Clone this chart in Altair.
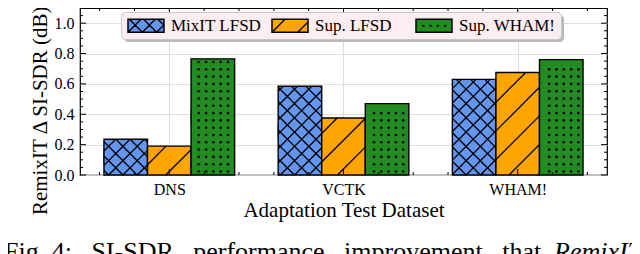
import json
import math
import numpy as np
import pandas as pd
import altair as alt

# ---------------- data ----------------
datasets = ["DNS", "VCTK", "WHAM!"]
series = ["MixIT LFSD", "Sup. LFSD", "Sup. WHAM!"]
mixit_lfsd = [0.235, 0.585, 0.630]
sup_lfsd = [0.190, 0.375, 0.675]
sup_wham = [0.765, 0.470, 0.760]
colors = ["#6495ED", "#FFA500", "#228B22"]
hatches = ["xx", "/", "dots"]
y_major = [0.0, 0.2, 0.4, 0.6, 0.8, 1.0]
y_minor = [0.05, 0.1, 0.15, 0.25, 0.3, 0.35, 0.45, 0.5, 0.55, 0.65, 0.7, 0.75,
           0.85, 0.9, 0.95, 1.05]
x_major = [0, 1, 2]
x_minor = [-0.4, -0.2, 0.2, 0.4, 0.6, 0.8, 1.2, 1.4, 1.6, 1.8, 2.2, 2.4]
x_title = "Adaptation Test Dataset"
y_title = "RemixIT Δ SI-SDR (dB)"
caption_plain = "Fig.\u00a04:\u00a0\u00a0\u00a0SI-SDR\u00a0\u00a0\u00a0performance\u00a0\u00a0\u00a0improvement\u00a0\u00a0\u00a0that"
caption_italic = "RemixIT’s"

values = [mixit_lfsd, sup_lfsd, sup_wham]

# ---------------- geometry helpers ----------------
W, H = 527, 167
BAR_W = 0.25
XMIN, XMAX = -0.5125, 2.5125
YMAX = 1.1
SX = W / (XMAX - XMIN)
SY = H / YMAX
XX_D, SL_D, DOT_D = 14.3, 28.6, 7.3

rows = []
for i, d in enumerate(datasets):
    for j, s in enumerate(series):
        pos = i + (j - 1) * BAR_W
        rows.append(dict(dataset=d, series=s, series_h=s, series_s=s,
                         value=values[j][i], pos=pos,
                         xl=pos - BAR_W / 2, xr=pos + BAR_W / 2,
                         hatch=hatches[j]))
bars = pd.DataFrame(rows)
bars["ymid"] = bars["value"] / 2


def diag(X0, X1, Y0, Y1, d, kind):
    segs = []
    if kind == "/":
        k0 = int(np.floor((Y0 - X1) / d)); k1 = int(np.ceil((Y1 - X0) / d))
        for k in range(k0, k1 + 1):
            c = k * d
            a = max(X0, Y0 - c); b = min(X1, Y1 - c)
            if b - a > 0.6:
                segs.append((a, a + c, b, b + c))
    else:
        k0 = int(np.floor((X0 + Y0) / d)); k1 = int(np.ceil((X1 + Y1) / d))
        for k in range(k0, k1 + 1):
            c = k * d
            a = max(X0, c - Y1); b = min(X1, c - Y0)
            if b - a > 0.6:
                segs.append((a, c - a, b, c - b))
    return segs


def dotgrid(X0, X1, Y0, Y1, step, phx, phy, margin):
    pts = []
    xs_ = np.arange(phx + step * np.ceil((X0 + margin - phx) / step), X1 - margin + 1e-9, step)
    ys_ = np.arange(phy + step * np.ceil((Y0 + margin - phy) / step), Y1 - margin + 1e-9, step)
    for X in xs_:
        for Y in ys_:
            pts.append((X, Y))
    return pts


seg_rows, dot_rows = [], []
for r in bars.itertuples():
    X0 = (r.xl - XMIN) * SX; X1 = (r.xr - XMIN) * SX
    Y0 = 0.0; Y1 = r.value * SY
    segs = []
    if r.hatch == "xx":
        segs = diag(X0, X1, Y0, Y1, XX_D, "/") + diag(X0, X1, Y0, Y1, XX_D, "\\")
    elif r.hatch == "/":
        segs = diag(X0, X1, Y0, Y1, SL_D, "/")
    else:
        for (X, Y) in dotgrid(X0, X1, Y0, Y1, DOT_D, 2.0, 3.5, 2.5):
            dot_rows.append(dict(x=XMIN + X / SX, y=Y / SY))
    for (a, b, c, e) in segs:
        seg_rows.append(dict(x1=XMIN + a / SX, y1=b / SY, x2=XMIN + c / SX, y2=e / SY))
segs_df = pd.DataFrame(seg_rows)
dots_df = pd.DataFrame(dot_rows)

# ---------------- legend swatch paths (unit = 6.5 px) ----------------
U = 6.5
SW_W, SW_H = 36.0, 13.0
X1U = -1 + SW_W / U
RECT = f"M-1,-1H{X1U:.3f}V1H-1Z"


def P(X, Y):
    return (-1 + X / U, 1 - Y / U)


def poly(pts):
    area = 0.0
    for k in range(len(pts)):
        x0, y0 = pts[k]; x1, y1 = pts[(k + 1) % len(pts)]
        area += x0 * y1 - x1 * y0
    if area < 0:
        pts = pts[::-1]
    return "M" + "L".join(f"{x:.3f},{y:.3f}" for x, y in pts) + "Z"


def seg_poly(a, b, c, e, w=1.3):
    dx, dy = c - a, e - b
    L = math.hypot(dx, dy)
    nx, ny = -dy / L * w / 2, dx / L * w / 2
    pts = [P(a + nx, b + ny), P(c + nx, e + ny), P(c - nx, e - ny), P(a - nx, b - ny)]
    return poly(pts)


def overlay_path(kind):
    t = 0.75 / U
    p = poly([(-1 - t, -1 - t), (X1U + t, -1 - t), (X1U + t, 1 + t), (-1 - t, 1 + t)])
    inner = [(-1 + t, -1 + t), (-1 + t, 1 - t), (X1U - t, 1 - t), (X1U - t, -1 + t)]
    p += "M" + "L".join(f"{x:.3f},{y:.3f}" for x, y in inner) + "Z"
    if kind == "xx":
        segs = diag(0, SW_W, 0, SW_H, XX_D, "/") + diag(0, SW_W, 0, SW_H, XX_D, "\\")
    elif kind == "/":
        segs = diag(0, SW_W, 0, SW_H, SL_D * 0.9, "/")
    else:
        segs = []
        h = 1.1 / U
        for X in [7.3, 14.6, 21.9, 29.2]:
            cx, cy = P(X, SW_H / 2)
            p += poly([(cx - h, cy - h), (cx + h, cy - h), (cx + h, cy + h), (cx - h, cy + h)])
    for (a, b, c, e) in segs:
        p += seg_poly(a, b, c, e)
    return p


overlay_paths = [overlay_path(h) for h in hatches]

xs = alt.Scale(domain=[XMIN, XMAX], zero=False, nice=False)
ys = alt.Scale(domain=[0, YMAX], zero=False, nice=False)
fill_scale = alt.Scale(domain=series, range=colors)

FONT = "Liberation Serif"
LX, LY = 41, 4
LAB_OFF = 28
MAX_LAB_W = 96.3  # width of the widest legend label at 17px
leg_common = dict(title=None, orient="none", direction="horizontal", gridAlign="all",
                  symbolSize=169, labelFont=FONT, labelFontSize=17,
                  padding=5, columnPadding=2, cornerRadius=4, symbolType=RECT,
                  symbolStrokeWidth=0)

legend_fill = alt.Legend(legendX=LX, legendY=LY, labelColor="black", labelOffset=LAB_OFF,
                         fillColor="#fcedf0", strokeColor="#c8c8c8",
                         zindex=2, **leg_common)
legend_hatch = alt.Legend(legendX=LX, legendY=LY, labelExpr="''",
                          labelOffset=LAB_OFF + MAX_LAB_W, zindex=3,
                          symbolFillColor="black", **leg_common)
legend_shadow = alt.Legend(legendX=LX + 3, legendY=LY + 3, labelExpr="''",
                           labelOffset=LAB_OFF + MAX_LAB_W, symbolOpacity=0,
                           fillColor="#b9b9b9", zindex=1, **leg_common)

label_expr = f"{json.dumps(datasets)}[round(datum.value)]"

x_axis = alt.Axis(
    values=x_major, labelExpr=label_expr, title=x_title, grid=True,
    ticks=False, tickSize=0, domain=False, labelPadding=6, labelFontSize=16,
    labelOverlap=False, labelFlush=False,
    titleFontSize=21, titleY=41, titleBaseline="alphabetic")
y_axis = alt.Axis(
    values=y_major, format=".1f", title=y_title, grid=True, tickCount=6,
    ticks=False, tickSize=0, domain=False, labelPadding=6, labelFontSize=16,
    labelOverlap=False, labelFlush=False,
    titleFontSize=21, titleX=-34, titleY=-2, titleAngle=270,
    titleAlign="right", titleBaseline="alphabetic")


def X(field):
    return alt.X(field, scale=xs, axis=x_axis)


def Y(field):
    return alt.Y(field, scale=ys, axis=y_axis)


# hidden points (under the bars) that carry the legends
pt_kw = dict(filled=True, size=169, opacity=1, xOffset=-15, strokeWidth=0)
legend_pts = alt.Chart(bars).mark_point(shape=RECT, **pt_kw).encode(
    x=X("pos:Q"), y=Y("ymid:Q"),
    fill=alt.Fill("series:N", scale=fill_scale, legend=legend_fill),
)
hatch_pts = alt.Chart(bars).mark_point(fill="black", **pt_kw).encode(
    x=X("pos:Q"), y=Y("ymid:Q"),
    shape=alt.Shape("series_h:N", scale=alt.Scale(domain=series, range=overlay_paths),
                    legend=legend_hatch),
)
shadow_pts = alt.Chart(bars).mark_point(fill="#b9b9b9", **pt_kw).encode(
    x=X("pos:Q"), y=Y("ymid:Q"),
    shape=alt.Shape("series_s:N", scale=alt.Scale(domain=series, range=[RECT] * 3),
                    legend=legend_shadow),
)

bar_layer = alt.Chart(bars).mark_rect(stroke="black", strokeWidth=1.4).encode(
    x=X("xl:Q"), x2="xr:Q",
    y=Y("value:Q"), y2=alt.Y2(datum=0),
    fill=alt.Fill("series:N", scale=fill_scale, legend=None),
)

hatch_layer = alt.Chart(segs_df).mark_rule(color="black", strokeWidth=1.3).encode(
    x=X("x1:Q"), y=Y("y1:Q"), x2="x2:Q", y2="y2:Q",
)

dot_layer = alt.Chart(dots_df).mark_circle(color="black", size=7, opacity=1).encode(
    x=X("x:Q"), y=Y("y:Q"),
)

MAJ, MIN_ = 6, 3
ymaj = pd.DataFrame({"t": y_major})
ymin = pd.DataFrame({"t": y_minor})
xmaj = pd.DataFrame({"t": x_major})
xmin = pd.DataFrame({"t": x_minor})


def yticks(df, L):
    base = alt.Chart(df).mark_rule(color="black", strokeWidth=1)
    left = base.encode(y=Y("t:Q"), x=alt.value(0), x2=alt.value(L))
    right = base.encode(y=Y("t:Q"), x=alt.value(W), x2=alt.value(W - L))
    return [left, right]


def xticks(df, L):
    base = alt.Chart(df).mark_rule(color="black", strokeWidth=1)
    top = base.encode(x=X("t:Q"), y=alt.value(0), y2=alt.value(L))
    bot = base.encode(x=X("t:Q"), y=alt.value(H), y2=alt.value(H - L))
    return [top, bot]


tick_layers = yticks(ymaj, MAJ) + yticks(ymin, MIN_) + xticks(xmaj, MAJ) + xticks(xmin, MIN_)

cap1 = alt.Chart(pd.DataFrame({"c": [caption_plain]})).mark_text(
    font=FONT, fontSize=26, align="left", baseline="alphabetic", color="black"
).encode(x=alt.value(-76), y=alt.value(252), text="c:N")
cap2 = alt.Chart(pd.DataFrame({"c": [caption_italic]})).mark_text(
    font=FONT, fontSize=26, fontStyle="italic", align="left", baseline="alphabetic",
    color="black"
).encode(x=alt.value(474), y=alt.value(252), text="c:N")

chart = alt.layer(
    shadow_pts, hatch_pts, legend_pts, bar_layer, hatch_layer, dot_layer,
    *tick_layers, cap1, cap2
).resolve_scale(
    shape="independent"
).properties(
    width=W, height=H,
    autosize=alt.AutoSizeParams(type="none"),
    padding={"left": 72, "top": 0, "right": 25, "bottom": 80},
).configure_axis(
    labelFont=FONT, titleFont=FONT, labelColor="black", titleColor="black",
    titleFontWeight="normal", gridColor="#d9d9d9", gridWidth=0.9,
    labelOverlap=False,
).configure_view(stroke="black", strokeWidth=1.2)

chart.save("out.html", embed_options={"renderer": "svg", "actions": False})
